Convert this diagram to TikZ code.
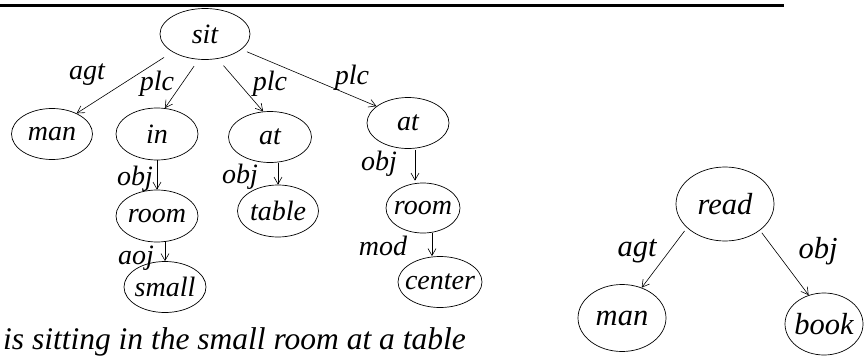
\documentclass[tikz,border=0pt]{standalone}
\usepackage{fontspec}
\setmainfont{Liberation Serif}
\usetikzlibrary{shapes.geometric,arrows.meta}
% text inside a concept ellipse: zero width, so the ellipse keeps its own size
\newcommand{\nodetext}[1]{\makebox[0pt]{#1}}
\begin{document}
\begin{tikzpicture}[x=1pt,y=-1pt,
  every node/.style={font=\fontsize{28}{30}\selectfont\itshape},
  concept/.style 2 args={ellipse,draw,line width=0.7pt,inner sep=0pt,
    minimum width=#1pt,minimum height=#2pt},
  rel/.style={draw,line width=0.6pt,-{Straight Barb[length=7pt,width=8pt]}},
  tag/.style={inner sep=0pt}]
\useasboundingbox (0,0) rectangle (864,356);

% rule across the top
\coordinate (ruleL) at (0,5.5);
\coordinate (ruleR) at (784,5.5);
\draw[line width=3pt] (ruleL) -- (ruleR);

% --- graph for "sit" ---
\node[concept={90}{51}] (sit)   at (205,34)  {\nodetext{sit}};
\node[concept={81}{51}] (man)   at (52,134)  {\nodetext{man}};
\node[concept={82}{52}] (in)    at (157,134) {\nodetext{in}};
\node[concept={83}{51}] (at2)   at (270,137) {\nodetext{at}};
\node[concept={82}{51}] (at3)   at (408,123) {\nodetext{at}};
\node[concept={82}{52}] (room1) at (157,216) {\nodetext{room}};
\node[concept={82}{51}] (small) at (165,287) {\nodetext{small}};
\node[concept={81}{52}] (table) at (278,211) {\nodetext{table}};
\node[concept={74}{50}] (room2) at (423,208) {\nodetext{room}};
\node[concept={84}{51}] (centr) at (440,282) {\nodetext{center}};

\draw[rel,shorten <=10pt] (sit.209) -- (man.40);
\draw[rel,shorten <=8pt]  (sit.256) -- (in.73);
\draw[rel,shorten <=9pt]  (sit.297) -- (at2.105);
\draw[rel,shorten <=6pt]  (sit.337) -- (at3.152);
\draw[rel] (in.south) -- (room1.north);
\draw[rel] ([xshift=8pt]room1.south) -- (small.north);
\draw[rel] ([xshift=8pt]at2.south) -- (table.north);
\draw[rel,shorten <=1pt,shorten >=2pt] ([xshift=7pt]at3.south) -- ([xshift=-8pt]room2.north);
\draw[rel] ([xshift=9pt]room2.south) -- ([xshift=-8pt]centr.north);

\node[tag] (lagt)  at (87,75)   {agt};
\node[tag] (lplc1) at (157,84)  {plc};
\node[tag] (lplc2) at (270,84)  {plc};
\node[tag] (lplc3) at (352,78)  {plc};
\node[tag] (lobj1) at (135,179) {obj};
\node[tag] (laoj)  at (136,258) {aoj};
\node[tag] (lobj2) at (240,177) {obj};
\node[tag] (lobj3) at (379,164) {obj};
\node[tag] (lmod)  at (383,246) {mod};

\node[tag,anchor=base west,font=\fontsize{31.5}{33}\selectfont\itshape]
  (sentence) at (3,349) {is sitting in the small room at a table};

% --- graph for "read" ---
\begin{scope}[every node/.style={font=\fontsize{30.5}{32}\selectfont\itshape}]
\node[concept={98}{74}] (read) at (725,204) {\nodetext{read}};
\node[concept={88}{67}] (man2) at (622,318) {\nodetext{man}};
\node[concept={78}{62}] (book) at (824,324) {\nodetext{book}};
\draw[rel,shorten <=4pt] (read.212) -- (man2.57);
\draw[rel,shorten <=3pt] (read.323) -- (book.118);
\node[tag] (ragt) at (637,251) {agt};
\node[tag] (robj) at (818,251) {obj};
\end{scope}
\end{tikzpicture}
\end{document}
